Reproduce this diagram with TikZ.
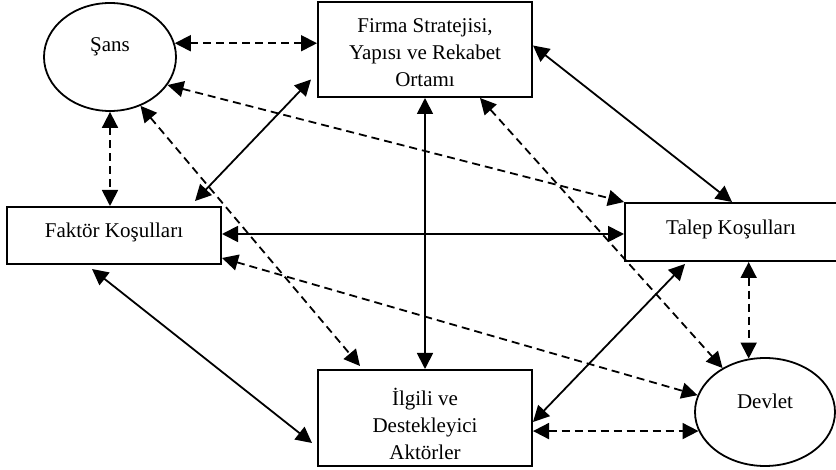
\documentclass[tikz,border=0pt]{standalone}
\usepackage{fontspec}
\setmainfont{Liberation Serif}
\usetikzlibrary{arrows.meta,shapes.geometric}
\begin{document}
\begin{tikzpicture}[x=1pt,y=-1pt,
  font=\fontsize{21}{27}\selectfont,
  block/.style={draw, line width=2pt, rectangle, inner sep=0pt},
  oval/.style={draw, line width=1.8pt, ellipse, inner sep=0pt},
  caption/.style={align=center, inner sep=0pt},
  tips/.style={{Triangle[length=16pt,width=16pt]}-{Triangle[length=16pt,width=16pt]}},
  solidlink/.style={tips, line width=1.8pt},
  dashlink/.style={tips, line width=1.8pt, dash pattern=on 8pt off 5pt},
]
\useasboundingbox (0,0) rectangle (836,470);

% the six determinants: outlines
\node[oval, minimum width=132pt, minimum height=108pt] (sans) at (110,57) {};
\node[block, minimum width=214pt, minimum height=95pt] (firma) at (425,49.5) {};
\node[block, minimum width=214pt, minimum height=57pt] (faktor) at (114,235.5) {};
\node[block, minimum width=212pt, minimum height=58pt] (talep) at (731,232) {};
\node[block, minimum width=214pt, minimum height=96pt] (ilgili) at (425,418) {};
\node[oval, minimum width=140pt, minimum height=108pt] (devlet) at (765,412) {};

% their titles
\node[caption] (sanstext) at (110,47) {Şans};
\node[caption] (firmatext) at (425,52.5) {Firma Stratejisi,\\Yapısı ve Rekabet\\Ortamı};
\node[caption] (faktortext) at (114,232.5) {Faktör Koşulları};
\node[caption] (talepttext) at (731,229) {Talep Koşulları};
\node[caption] (ilgilitext) at (425,423.5) {İlgili ve\\Destekleyici\\Aktörler};
\node[caption] (devlettext) at (765,401) {Devlet};

% links from chance
\draw[dashlink] (sans.12) -- (sans.12 -| firma.west);
\draw[dashlink] (sans.-26) -- (talep.north west);
\draw[dashlink] (sans.south) -- (sans.south |- faktor.north);
\draw[dashlink] (sans.-58) -- ([xshift=-65pt,yshift=3pt]ilgili.north);

% links between the four main determinants
\draw[solidlink] ([xshift=81pt,yshift=5pt]faktor.north) -- ([xshift=-6pt,yshift=-30pt]firma.west);
\draw[solidlink] ([yshift=4pt]firma.east) -- ([xshift=1pt]talep.north);
\draw[solidlink] (firma.south) -- (ilgili.north);
\draw[solidlink] ([yshift=1.5pt]faktor.east) -- ([yshift=1.5pt]faktor.east -| talep.west);
\draw[solidlink] ([xshift=-22pt,yshift=-4pt]faktor.south) -- ([xshift=-5pt,yshift=-25pt]ilgili.west);
\draw[solidlink] ([xshift=-46pt,yshift=-2pt]talep.south) -- ([yshift=-4pt]ilgili.east);

% links from government
\draw[dashlink] ([xshift=55pt]firma.south) -- (devlet.134);
\draw[dashlink] ([yshift=7pt]faktor.south east) -- (devlet.166);
\draw[dashlink] (devlet.107 |- talep.south) -- (devlet.107);
\draw[dashlink] (devlet.196 -| ilgili.east) -- (devlet.196);
\end{tikzpicture}
\end{document}
